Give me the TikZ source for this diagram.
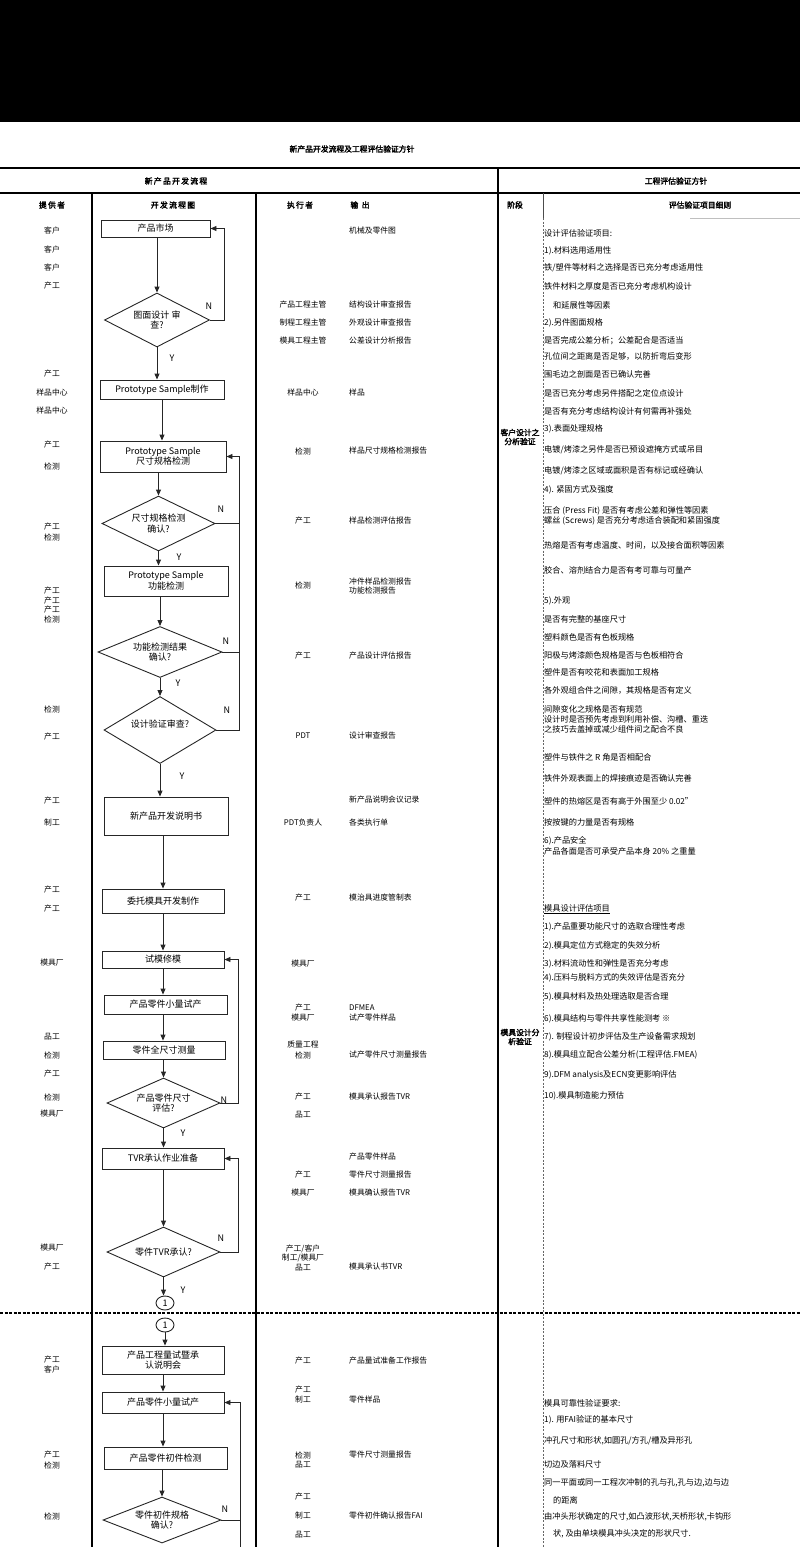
\documentclass[tikz,border=0pt]{standalone}
\usepackage{fontspec}
\setmainfont{Noto Sans CJK SC}[AutoFakeBold=2.5]
\usetikzlibrary{arrows.meta,shapes.geometric}
\newcommand\fsS{\fontsize{7.8}{9}\selectfont}
\newcommand\fsB{\fontsize{9}{10.5}\selectfont}
\newcommand\fsD{\fontsize{8.2}{9.5}\selectfont}
\tikzset{
 box/.style={draw=black!85, line width=0.9pt, inner sep=0pt, align=center, font=\fsB},
 dia/.style={diamond, aspect=2, draw=black!85, line width=0.9pt, inner sep=0pt, align=center, font=\fsB},
 arr/.style={draw=black!85, line width=0.9pt, -{Triangle[length=6pt,width=5pt]}},
 ln/.style={draw=black!85, line width=0.9pt},
 yn/.style={font=\fsB, inner sep=0pt},
 pv/.style={font=\fsS, inner sep=0pt},
 ot/.style={font=\fsS, inner sep=0pt, anchor=west},
 dt/.style={font=\fsD, inner sep=0pt, anchor=west},
 hd/.style={font=\fsS\bfseries, inner sep=0pt},
 cir/.style={ellipse, draw=black!85, line width=0.9pt, minimum width=18, minimum height=14, inner sep=0pt, font=\fsB},
 tbl/.style={draw=black, line width=1.3pt},
}
\begin{document}
\begin{tikzpicture}[x=1pt,y=-1pt]
\useasboundingbox (0,0) rectangle (800,1547);
\fill[black] (0,0) rectangle (800,122);

% ---------- table frame ----------
\draw[tbl] (0,168) -- (800,168);
\draw[tbl] (0,193) -- (800,193);
\draw[tbl] (92,193) -- (92,1547);
\draw[tbl] (256,193) -- (256,1547);
\draw[draw=black, line width=1.6pt] (498,168) -- (498,1547);
\draw[black!70, line width=0.6pt] (543,193) -- (543,218);
\draw[black!60, line width=0.6pt, dash pattern=on 2pt off 1.5pt] (543,218) -- (543,1547);
\draw[black!25, line width=0.6pt] (690,218) -- (800,218);
\draw[black, line width=1.5pt, dash pattern=on 3pt off 1.5pt] (0,1313) -- (800,1313);

% ---------- headers ----------
\node[hd] (title) at (352,149) {新产品开发流程及工程评估验证方针};
\node[hd] (h1) at (176,181) {新\,产\,品\,开\,发\,流\,程};
\node[hd] (h2) at (676,181) {工程评估验证方针};
\node[hd] (h3) at (52,205) {提\,供\,者};
\node[hd] (h4) at (173,205) {开\,发\,流\,程\,图};
\node[hd] (h5) at (300,205) {执\,行\,者};
\node[hd] (h6) at (360,205) {输\ \ 出};
\node[hd] (h7) at (515,205) {阶段};
\node[hd] (h8) at (700,205) {评估验证项目细则};

% ---------- flow chart ----------
\node[box, minimum width=109, minimum height=17] (b1) at (155.5,228.5) {产品市场};
\node[dia, minimum width=105, minimum height=54] (d1) at (157,320) {图面设计 审\\查?};
\node[box, minimum width=124, minimum height=19] (b2) at (162,389.5) {Prototype Sample制作};
\node[box, minimum width=126, minimum height=31] (b3) at (163,456.5) {Prototype Sample\\尺寸规格检测};
\node[dia, minimum width=113, minimum height=55] (d2) at (158.5,523.5) {尺寸规格检测\\确认?};
\node[box, minimum width=124, minimum height=30] (b4) at (166,581) {Prototype Sample\\功能检测};
\node[dia, minimum width=124, minimum height=51] (d3) at (160,652) {功能检测结果\\确认?};
\node[dia, minimum width=112, minimum height=67] (d4) at (160,730) {\raisebox{12pt}{设计验证审查?}};
\node[box, minimum width=124, minimum height=38] (b5) at (166,816) {新产品开发说明书};
\node[box, minimum width=122, minimum height=24] (b6) at (163,901) {委托模具开发制作};
\node[box, minimum width=122, minimum height=17] (b7) at (163,959.5) {试模修模};
\node[box, minimum width=123, minimum height=19] (b8) at (165.5,1004.5) {产品零件小量试产};
\node[box, minimum width=122, minimum height=18] (b9) at (164,1050) {零件全尺寸测量};
\node[dia, minimum width=113, minimum height=50] (d5) at (163.5,1103) {产品零件尺寸\\评估?};
\node[box, minimum width=122, minimum height=21] (b10) at (163,1158.5) {TVR承认作业准备};
\node[dia, minimum width=113, minimum height=50] (d6) at (163.5,1252) {零件TVR承认?};
\node[cir] (c1) at (165,1303) {1};
\node[cir] (c2) at (165,1325) {1};
\node[box, minimum width=122, minimum height=28] (b11) at (163,1360) {产品工程量试暨承\\认说明会};
\node[box, minimum width=122, minimum height=21] (b12) at (163,1402.5) {产品零件小量试产};
\node[box, minimum width=123, minimum height=22] (b13) at (165.5,1458) {产品零件初件检测};
\node[dia, minimum width=118, minimum height=46] (d7) at (162,1520) {零件初件规格\\确认?};

\draw[arr] (d1.north |- b1.south) -- (d1.north);
\draw[arr] (d1.south) -- (d1.south |- b2.north);
\draw[arr] (b2.south) -- (b2.south |- b3.north);
\draw[arr] (d2.north |- b3.south) -- (d2.north);
\draw[arr] (d2.south) -- (d2.south |- b4.north);
\draw[arr] (d3.north |- b4.south) -- (d3.north);
\draw[arr] (d3.south) -- (d4.north);
\draw[arr] (d4.south) -- (d4.south |- b5.north);
\draw[arr] (b6.north |- b5.south) -- (b6.north);
\draw[arr] (b6.south) -- (b7.north);
\draw[arr] (b7.south) -- (b7.south |- b8.north);
\draw[arr] (b7.south |- b8.south) -- (b7.south |- b9.north);
\draw[arr] (d5.north |- b9.south) -- (d5.north);
\draw[arr] (d5.south) -- (d5.south |- b10.north);
\draw[arr] (d6.north |- b10.south) -- (d6.north);
\draw[arr] (d6.south) -- (d6.south |- c1.north);
\draw[arr] (c2.south) -- (c2.south |- b11.north);
\draw[arr] (b11.south) -- (b12.north);
\draw[arr] (b12.south) -- (b12.south |- b13.north);
\draw[arr] (d7.north |- b13.south) -- (d7.north);

\coordinate (r1) at (224,0);
\coordinate (r2) at (239,0);
\coordinate (r3) at (238,0);
\coordinate (r5) at (240,0);
\coordinate (bot) at (240,1547);
\draw[arr] (d1.east) -- (r1 |- d1.east) -- (r1 |- b1.east) -- (b1.east);
\draw[arr] (d4.east) -- (r2 |- d4.east) -- (r2 |- b3.east) -- (b3.east);
\draw[ln] (d2.east) -- (r2 |- d2.east);
\draw[ln] (d3.east) -- (r2 |- d3.east);
\draw[arr] (d5.east) -- (r3 |- d5.east) -- (r3 |- b7.east) -- (b7.east);
\draw[arr] (d6.east) -- (r3 |- d6.east) -- (r3 |- b10.east) -- (b10.east);
\draw[arr] (d7.east) -- (r5 |- d7.east) -- (r5 |- b12.east) -- (b12.east);
\draw[ln] (r5 |- d7.east) -- (bot);

\node[yn] (n1) at (209,306) {N};
\node[yn] (y1) at (172,358) {Y};
\node[yn] (n2) at (221,509) {N};
\node[yn] (y2) at (179,557) {Y};
\node[yn] (n3) at (226,641) {N};
\node[yn] (y3) at (178,683) {Y};
\node[yn] (n4) at (227,710) {N};
\node[yn] (y4) at (182,776) {Y};
\node[yn] (n5) at (224,1100) {N};
\node[yn] (y5) at (183,1133) {Y};
\node[yn] (n6) at (221,1238) {N};
\node[yn] (y6) at (183,1290) {Y};
\node[yn] (n7) at (225,1509) {N};

% ---------- provider column ----------
\node[pv] (p1) at (52,231) {客户};
\node[pv] (p2) at (52,250) {客户};
\node[pv] (p3) at (52,268) {客户};
\node[pv] (p4) at (52,286) {产工};
\node[pv] (p5) at (52,374) {产工};
\node[pv] (p6) at (52,393) {样品中心};
\node[pv] (p7) at (52,411) {样品中心};
\node[pv] (p8) at (52,445) {产工};
\node[pv] (p9) at (52,466) {检测};
\node[pv] (p10) at (52,527) {产工};
\node[pv] (p11) at (52,537) {检测};
\node[pv] (p12) at (52,591) {产工};
\node[pv] (p13) at (52,601) {产工};
\node[pv] (p14) at (52,610) {产工};
\node[pv] (p15) at (52,619) {检测};
\node[pv] (p16) at (52,709) {检测};
\node[pv] (p17) at (52,737) {产工};
\node[pv] (p18) at (52,801) {产工};
\node[pv] (p19) at (52,823) {制工};
\node[pv] (p20) at (52,890) {产工};
\node[pv] (p21) at (52,909) {产工};
\node[pv] (p22) at (52,963) {模具厂};
\node[pv] (p23) at (52,1037) {品工};
\node[pv] (p24) at (52,1055) {检测};
\node[pv] (p25) at (52,1074) {产工};
\node[pv] (p26) at (52,1097) {检测};
\node[pv] (p27) at (52,1114) {模具厂};
\node[pv] (p28) at (52,1248) {模具厂};
\node[pv] (p29) at (52,1267) {产工};
\node[pv] (p30) at (52,1360) {产工};
\node[pv] (p31) at (52,1370) {客户};
\node[pv] (p32) at (52,1455) {产工};
\node[pv] (p33) at (52,1465) {检测};
\node[pv] (p34) at (52,1516) {检测};

% ---------- executor column ----------
\node[pv] (e1) at (303,305) {产品工程主管};
\node[pv] (e2) at (303,323) {制程工程主管};
\node[pv] (e3) at (303,341) {模具工程主管};
\node[pv] (e4) at (303,393) {样品中心};
\node[pv] (e5) at (303,451) {检测};
\node[pv] (e6) at (303,521) {产工};
\node[pv] (e7) at (303,585) {检测};
\node[pv] (e8) at (303,656) {产工};
\node[pv] (e9) at (303,736) {PDT};
\node[pv] (e10) at (303,823) {PDT负责人};
\node[pv] (e11) at (303,898) {产工};
\node[pv] (e12) at (303,964) {模具厂};
\node[pv] (e13) at (303,1008) {产工};
\node[pv] (e14) at (303,1018) {模具厂};
\node[pv] (e15) at (303,1045) {质量工程};
\node[pv] (e16) at (303,1055) {检测};
\node[pv] (e17) at (303,1097) {产工};
\node[pv] (e18) at (303,1115) {品工};
\node[pv] (e19) at (303,1175) {产工};
\node[pv] (e20) at (303,1193) {模具厂};
\node[pv] (e21) at (303,1249) {产工/客户};
\node[pv] (e22) at (303,1258) {制工/模具厂};
\node[pv] (e23) at (303,1268) {品工};
\node[pv] (e24) at (303,1361) {产工};
\node[pv] (e25) at (303,1390) {产工};
\node[pv] (e26) at (303,1400) {制工};
\node[pv] (e27) at (303,1455) {检测};
\node[pv] (e28) at (303,1465) {品工};
\node[pv] (e29) at (303,1497) {产工};
\node[pv] (e30) at (303,1516) {制工};
\node[pv] (e31) at (303,1535) {品工};

% ---------- output column ----------
\node[ot] (o1) at (349,231) {机械及零件图};
\node[ot] (o2) at (349,305) {结构设计审查报告};
\node[ot] (o3) at (349,323) {外观设计审查报告};
\node[ot] (o4) at (349,341) {公差设计分析报告};
\node[ot] (o5) at (349,393) {样品};
\node[ot] (o6) at (349,451) {样品尺寸规格检测报告};
\node[ot] (o7) at (349,521) {样品检测评估报告};
\node[ot] (o8) at (349,582) {冲件样品检测报告};
\node[ot] (o9) at (349,591) {功能检测报告};
\node[ot] (o10) at (349,656) {产品设计评估报告};
\node[ot] (o11) at (349,736) {设计审查报告};
\node[ot] (o12) at (349,800) {新产品说明会议记录};
\node[ot] (o13) at (349,823) {各类执行单};
\node[ot] (o14) at (349,898) {模治具进度管制表};
\node[ot] (o15) at (349,1008) {DFMEA};
\node[ot] (o16) at (349,1018) {试产零件样品};
\node[ot] (o17) at (349,1055) {试产零件尺寸测量报告};
\node[ot] (o18) at (349,1097) {模具承认报告TVR};
\node[ot] (o19) at (349,1157) {产品零件样品};
\node[ot] (o20) at (349,1175) {零件尺寸测量报告};
\node[ot] (o21) at (349,1193) {模具确认报告TVR};
\node[ot] (o22) at (349,1267) {模具承认书TVR};
\node[ot] (o23) at (349,1361) {产品量试准备工作报告};
\node[ot] (o24) at (349,1400) {零件样品};
\node[ot] (o25) at (349,1455) {零件尺寸测量报告};
\node[ot] (o26) at (349,1516) {零件初件确认报告FAI};

% ---------- stage column ----------
\node[hd, align=center] (s1) at (520,437) {客户设计之\\分析验证};
\node[hd, align=center] (s2) at (520,1037) {模具设计分\\析验证};

% ---------- detail column ----------
\node[dt] (t1) at (544,233) {设计评估验证项目:};
\node[dt] (t2) at (544,251) {1).材料选用适用性};
\node[dt] (t3) at (544,268) {铁/塑件等材料之选择是否已充分考虑适用性};
\node[dt] (t4) at (544,286) {铁件材料之厚度是否已充分考虑机构设计};
\node[dt] (t5) at (553,305) {和延展性等因素};
\node[dt] (t6) at (544,323) {2).另件图面规格};
\node[dt] (t7) at (544,341) {是否完成公差分析；公差配合是否适当};
\node[dt] (t8) at (544,356) {孔位间之距离是否足够，以防折弯后变形};
\node[dt] (t9) at (544,374) {围毛边之剖面是否已确认完善};
\node[dt] (t10) at (544,393) {是否已充分考虑另件搭配之定位点设计};
\node[dt] (t11) at (544,411) {是否有充分考虑结构设计有何需再补强处};
\node[dt] (t12) at (544,429) {3).表面处理规格};
\node[dt] (t13) at (544,450) {电镀/烤漆之另件是否已预设遮掩方式或吊目};
\node[dt] (t14) at (544,471) {电镀/烤漆之区域或面积是否有标记或经确认};
\node[dt] (t15) at (544,490) {4). 紧固方式及强度};
\node[dt] (t16) at (544,511) {压合 (Press Fit) 是否有考虑公差和弹性等因素};
\node[dt] (t17) at (544,521) {螺丝 (Screws) 是否充分考虑适合装配和紧固强度};
\node[dt] (t18) at (544,545) {热熔是否有考虑温度、时间，以及接合面积等因素};
\node[dt] (t19) at (544,570) {胶合、溶剂结合力是否有考可靠与可量产};
\node[dt] (t20) at (544,601) {5).外观};
\node[dt] (t21) at (544,619) {是否有完整的基座尺寸};
\node[dt] (t22) at (544,637) {塑料颜色是否有色板规格};
\node[dt] (t23) at (544,655) {阳极与烤漆颜色规格是否与色板相符合};
\node[dt] (t24) at (544,672) {塑件是否有咬花和表面加工规格};
\node[dt] (t25) at (544,690) {各外观组合件之间隙，其规格是否有定义};
\node[dt] (t26) at (544,709) {间隙变化之规格是否有规范};
\node[dt] (t27) at (544,719) {设计时是否预先考虑到利用补偿、沟槽、重迭};
\node[dt] (t28) at (544,729) {之技巧去盖掉或减少组件间之配合不良};
\node[dt] (t29) at (544,757) {塑件与铁件之 R 角是否相配合};
\node[dt] (t30) at (544,778) {铁件外观表面上的焊接痕迹是否确认完善};
\node[dt] (t31) at (544,801) {塑件的热熔区是否有高于外围至少 0.02"};
\node[dt] (t32) at (544,822) {按按键的力量是否有规格};
\node[dt] (t33) at (544,841) {6).产品安全};
\node[dt] (t34) at (544,851) {产品各面是否可承受产品本身 20\% 之重量};
\node[dt] (t35) at (544,909) {\underline{模具设计评估项目}};
\node[dt] (t36) at (544,927) {1).产品重要功能尺寸的选取合理性考虑};
\node[dt] (t37) at (544,946) {2).模具定位方式稳定的失效分析};
\node[dt] (t38) at (544,964) {3).材料流动性和弹性是否充分考虑};
\node[dt] (t39) at (544,978) {4).压料与脱料方式的失效评估是否充分};
\node[dt] (t40) at (544,997) {5).模具材料及热处理选取是否合理};
\node[dt] (t41) at (544,1019) {6).模具结构与零件共享性能测考 ※};
\node[dt] (t42) at (544,1037) {7). 制程设计初步评估及生产设备需求规划};
\node[dt] (t43) at (544,1055) {8).模具组立配合公差分析(工程评估.FMEA)};
\node[dt] (t44) at (544,1075) {9).DFM analysis及ECN变更影响评估};
\node[dt] (t45) at (544,1096) {10).模具制造能力预估};
\node[dt] (t46) at (544,1403) {模具可靠性验证要求:};
\node[dt] (t47) at (544,1420) {1). 用FAI验证的基本尺寸};
\node[dt] (t48) at (544,1441) {冲孔尺寸和形状,如圆孔/方孔/槽及异形孔};
\node[dt] (t49) at (544,1464) {切边及落料尺寸};
\node[dt] (t50) at (544,1483) {同一平面或同一工程次冲制的孔与孔,孔与边,边与边};
\node[dt] (t51) at (553,1500) {的距离};
\node[dt] (t52) at (544,1517) {由冲头形状确定的尺寸,如凸波形状,天桥形状,卡钩形};
\node[dt] (t53) at (553,1534) {状, 及由单块模具冲头决定的形状尺寸.};
\end{tikzpicture}
\end{document}
